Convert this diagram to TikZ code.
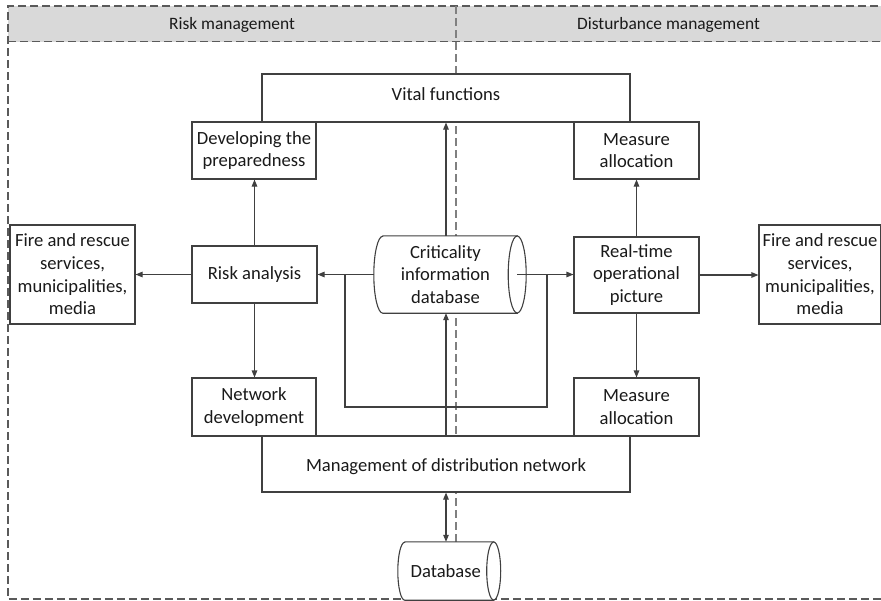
\documentclass[tikz,border=0pt]{standalone}
\usepackage{fontspec}
\setmainfont{Carlito}
\usetikzlibrary{arrows.meta}
\pgfdeclarelayer{bg}
\pgfdeclarelayer{mid}
\pgfsetlayers{bg,mid,main}
\definecolor{lnc}{HTML}{404040}
\definecolor{hdrc}{HTML}{D9D9D9}
\definecolor{framec}{HTML}{5A5A5A}
\definecolor{divc}{HTML}{808080}
\definecolor{txtc}{HTML}{1A1A1A}
\newcommand{\bodyfnt}{\fontsize{18.6}{22.7}\selectfont}
\newcommand{\headfnt}{\fontsize{17.4}{21}\selectfont}
\begin{document}
\begin{tikzpicture}[x=1pt,y=1pt,
  box/.style={draw=lnc, line width=1.1pt, fill=white, inner sep=0pt, align=center, font=\bodyfnt, text=txtc},
  plain/.style={draw=lnc, line width=1.1pt},
  arr/.style={draw=lnc, line width=1.1pt, -{Triangle[length=7pt,width=5.5pt]}},
  darr/.style={draw=lnc, line width=1.1pt, {Triangle[length=7pt,width=5.5pt]}-{Triangle[length=7pt,width=5.5pt]}},
  framel/.style={draw=framec, line width=1.1pt, dash pattern=on 8pt off 4pt},
  divl/.style={draw=divc, line width=1.1pt, dash pattern=on 8pt off 4pt},
  lbl/.style={font=\bodyfnt, text=txtc, inner sep=0pt},
  hlbl/.style={font=\headfnt, text=txtc, inner sep=0pt, anchor=base}]
\useasboundingbox (0,0) rectangle (881,-600);

% ---------- background: header band, frame, divider ----------
\begin{pgfonlayer}{bg}
  \fill[hdrc] (8,-6) rectangle (890,-41.7);
  \draw[framel] (890,-6) -- (8,-6) -- (8,-599) -- (890,-599);
  \draw[framel] (8,-41.7) -- (890,-41.7);
  \draw[divl] (456,-6) -- (456,-599);
\end{pgfonlayer}

\node[hlbl] (hleft) at (232,-29.5) {Risk management};
\node[hlbl] (hright) at (668.5,-29.5) {Disturbance management};

% ---------- boxes ----------
\node[box, minimum width=368, minimum height=48] (vital) at (446,-98) {};
\node[lbl, anchor=base] (vitaltxt) at (446,-100) {Vital functions};

\node[box, minimum width=124, minimum height=57] (dev) at (254,-150.5) {Developing the\\preparedness};
\node[box, minimum width=125, minimum height=57] (mtop) at (636.5,-150.5) {Measure\\allocation};

\node[box, minimum width=125, minimum height=99] (firel) at (72.5,-274.5) {Fire and rescue\\services,\\municipalities,\\media};
\node[box, minimum width=125, minimum height=57] (risk) at (254.5,-274.5) {Risk analysis};
\node[box, minimum width=125, minimum height=76] (rt) at (636.5,-275) {Real-time\\operational\\picture};
\node[box, minimum width=122, minimum height=99] (firer) at (820,-274.5) {Fire and rescue\\services,\\municipalities,\\media};

\node[box, minimum width=124, minimum height=58] (net) at (254,-407) {Network\\development};
\node[box, minimum width=125, minimum height=58] (mbot) at (636.5,-407) {Measure\\allocation};

\node[box, minimum width=368, minimum height=56] (mgmt) at (446,-464) {};
\node[lbl, anchor=base] (mgmttxt) at (446,-471.7) {Management of distribution network};

% ---------- cylinders ----------
\node[lbl, align=center, minimum width=143, minimum height=77] (crit) at (445.5,-274.5) {Criticality\\information\\database};
\node[lbl, align=center, minimum width=95.5, minimum height=58] (db) at (445.75,-571) {Database};
\begin{pgfonlayer}{mid}
  \draw[plain, fill=white] ([xshift=9pt]crit.north west) -- (crit.north east) -- (crit.south east)
     -- ([xshift=9pt]crit.south west) arc[start angle=270, end angle=90, x radius=9pt, y radius=38.5pt] -- cycle;
  \draw[plain, fill=white] (crit.east) ellipse [x radius=9pt, y radius=38.5pt];
  \draw[plain, fill=white] ([xshift=7pt]db.north west) -- (db.north east) -- (db.south east)
     -- ([xshift=7pt]db.south west) arc[start angle=270, end angle=90, x radius=7pt, y radius=29pt] -- cycle;
  \draw[plain, fill=white] (db.east) ellipse [x radius=7pt, y radius=29pt];
\end{pgfonlayer}

% ---------- connectors ----------
\coordinate (jl) at (345,-274.5);
\coordinate (jr) at (547,-274.5);
\coordinate (loopy) at (0,-407);

\draw[arr] (risk.west) -- (risk.west -| firel.east);
\draw[arr] (risk.north) -- (risk.north |- dev.south);
\draw[arr] (risk.south) -- (risk.south |- net.north);
\draw[arr] (crit.west) -- (crit.west -| risk.east);
\draw[arr] (crit.east) -- (crit.east -| rt.west);
\draw[plain] (jl) -- (jl |- loopy) -| (jr);
\draw[arr] (mgmt.north) -- (mgmt.north |- crit.south);
\draw[arr] (vital.south |- crit.north) -- (vital.south);
\draw[arr] (rt.north) -- (rt.north |- mtop.south);
\draw[arr] (rt.south) -- (rt.south |- mbot.north);
\draw[arr] (rt.east) -- (rt.east -| firer.west);
\draw[darr] (mgmt.south) -- (mgmt.south |- db.north);
\end{tikzpicture}
\end{document}
